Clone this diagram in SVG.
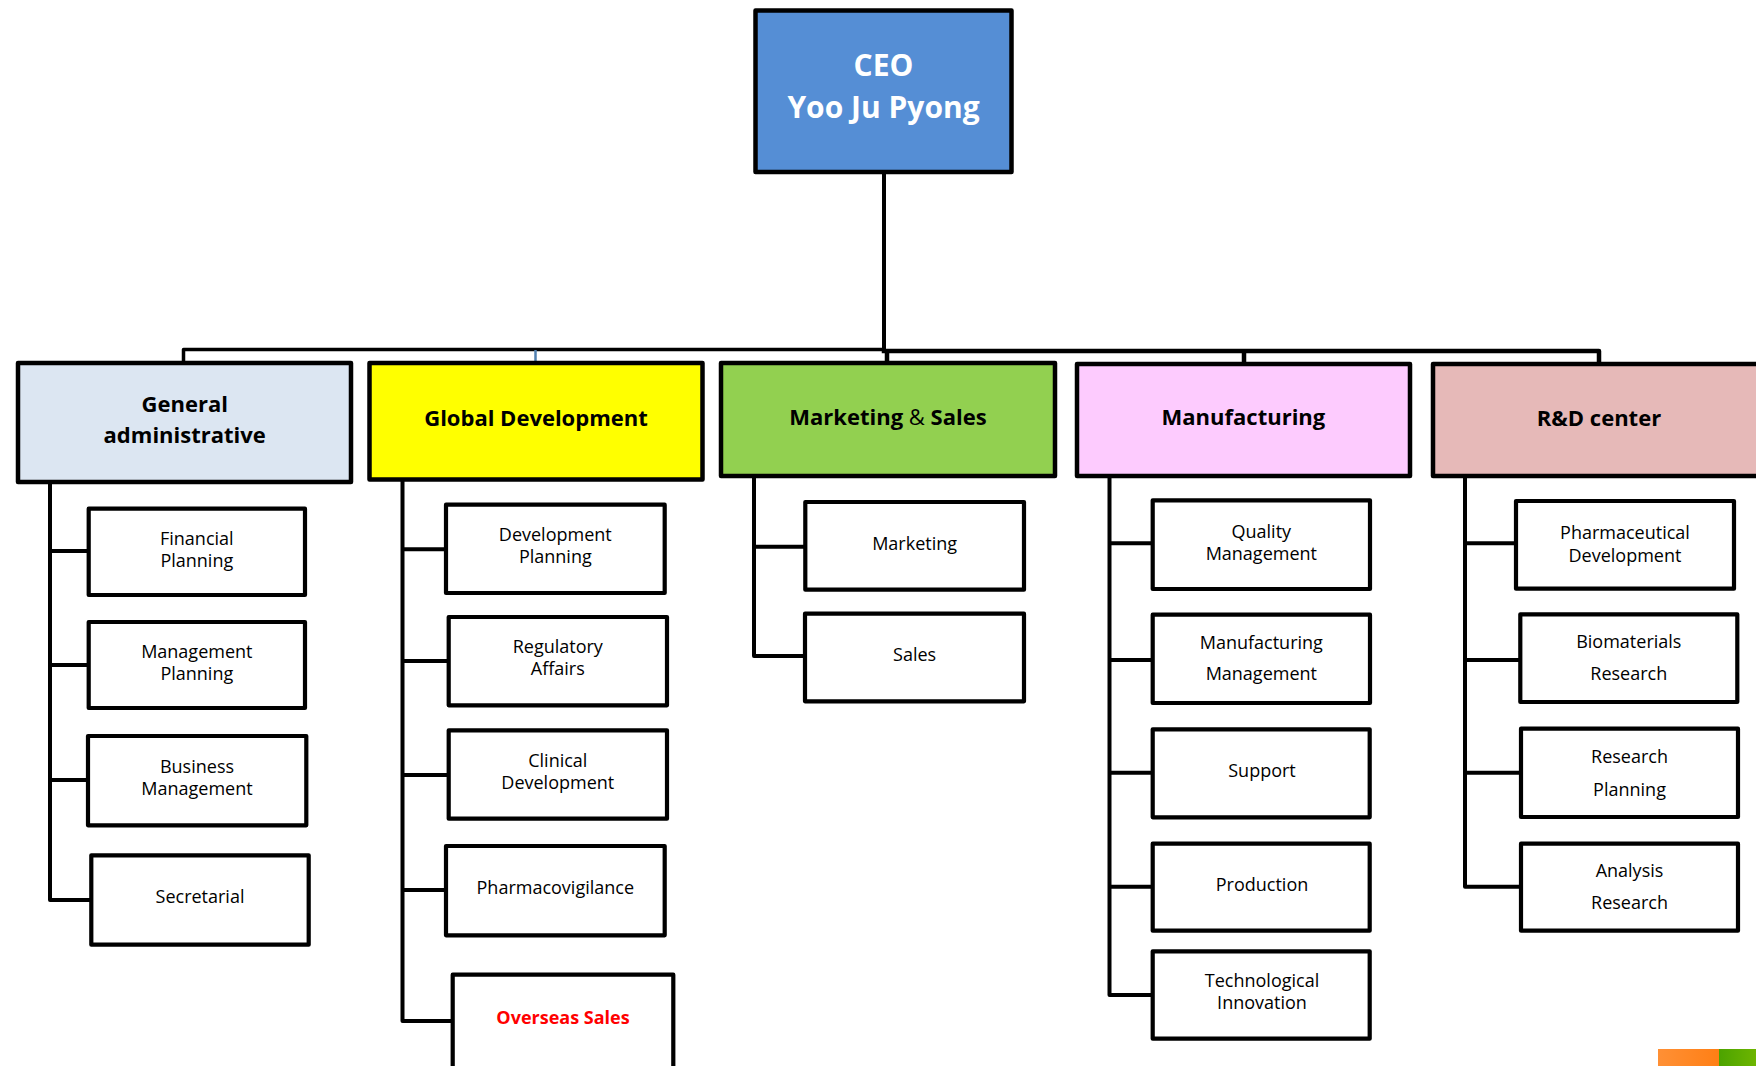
<svg xmlns="http://www.w3.org/2000/svg" width="1756" height="1066" viewBox="0 0 1756 1066">
<defs>
<style>
.box{fill:#fff;stroke:#000;stroke-width:4.2;stroke-linejoin:round}
.dept{stroke:#000;stroke-width:4.5;stroke-linejoin:round}
.ln{fill:none;stroke:#000;stroke-width:4;stroke-linejoin:round;stroke-linecap:square}
.t{font-family:"Open Sans","Liberation Sans",sans-serif;font-size:18px;fill:#000;text-anchor:middle}
.d{font-family:"Open Sans","Liberation Sans",sans-serif;font-size:22px;font-weight:bold;fill:#000;text-anchor:middle}
.ceo{font-family:"Open Sans","Liberation Sans",sans-serif;font-size:30px;font-weight:bold;fill:#fff;text-anchor:middle}
.red{fill:#ff0000;font-weight:bold}
</style>
<linearGradient id="og" x1="0" y1="0" x2="1" y2="0"><stop offset="0" stop-color="#ff9035"/><stop offset="1" stop-color="#ff7f15"/></linearGradient>
<linearGradient id="gg" x1="0" y1="0" x2="1" y2="0"><stop offset="0" stop-color="#4ca300"/><stop offset="1" stop-color="#6db500"/></linearGradient>
</defs>
<rect width="1756" height="1066" fill="#fff"/>

<g id="connectors">
<path class="ln" d="M884,174 V351"/>
<path class="ln" style="stroke-width:3.5" d="M183.5,362 V349.5 H884"/>
<path class="ln" style="stroke-width:4.5" d="M884,351 H1599 V363 M887,351 V363 M1244,351 V363"/>
<path d="M535.5,350 V362" stroke="#4f7fb0" stroke-width="2.5" fill="none"/>
<path class="ln" d="M50,484 V900 H89 M50,551 H88 M50,665 H88 M50,780 H88"/>
<path class="ln" d="M402.5,481 V1021 H452 M402.5,549.3 H445 M402.5,661 H448 M402.5,775 H448 M402.5,890 H445"/>
<path class="ln" d="M754,477 V656 H804 M754,546.7 H804"/>
<path class="ln" d="M1109.5,477 V995 H1152 M1109.5,543.3 H1152 M1109.5,660 H1152 M1109.5,772.7 H1152 M1109.5,886.7 H1152"/>
<path class="ln" d="M1465,477 V886.7 H1520 M1465,543.3 H1515 M1465,660 H1519 M1465,772.7 H1520"/>
</g>

<g id="ceo">
<rect x="755.5" y="10.5" width="256" height="161.5" fill="#558ed5" stroke="#000" stroke-width="4.5" stroke-linejoin="round"/>
<text class="ceo" x="883.5" y="76">CEO</text>
<text class="ceo" x="883.5" y="118">Yoo Ju Pyong</text>
</g>

<g id="general">
<rect class="dept" x="18" y="363" width="333" height="119" fill="#dce6f2"/>
<text class="d" x="184.7" y="412">General</text>
<text class="d" x="184.7" y="443">administrative</text>
</g>
<g id="global">
<rect class="dept" x="369.5" y="363" width="333" height="116.5" fill="#ffff00"/>
<text class="d" x="536" y="426">Global Development</text>
</g>
<g id="marketing">
<rect class="dept" x="721" y="363" width="334" height="113" fill="#92d050"/>
<text class="d" x="888" y="425">Marketing <tspan font-weight="normal">&amp;</tspan> Sales</text>
</g>
<g id="manufacturing">
<rect class="dept" x="1077" y="364" width="333" height="112" fill="#fdcbfe"/>
<text class="d" x="1243.4" y="425">Manufacturing</text>
</g>
<g id="rnd">
<rect class="dept" x="1433" y="364" width="340" height="112" fill="#e6b9b8"/>
<text class="d" x="1599" y="426">R&amp;D center</text>
</g>

<g id="financial-planning"><rect class="box" x="88.7" y="508.7" width="216.3" height="86.3"/><text class="t" x="196.8" y="545">Financial</text><text class="t" x="196.8" y="567">Planning</text></g>
<g id="management-planning"><rect class="box" x="88.7" y="622" width="216.3" height="86"/><text class="t" x="196.8" y="658">Management</text><text class="t" x="196.8" y="680">Planning</text></g>
<g id="business-management"><rect class="box" x="88" y="736" width="218.3" height="89.3"/><text class="t" x="197" y="772.7">Business</text><text class="t" x="197" y="795">Management</text></g>
<g id="secretarial"><rect class="box" x="91.3" y="855.3" width="217.4" height="89.4"/><text class="t" x="200" y="903.3">Secretarial</text></g>

<g id="development-planning"><rect class="box" x="446" y="504.7" width="218.7" height="88.3"/><text class="t" x="555.3" y="541">Development</text><text class="t" x="555.3" y="563.3">Planning</text></g>
<g id="regulatory-affairs"><rect class="box" x="448.7" y="617" width="218.3" height="88.3"/><text class="t" x="557.8" y="653">Regulatory</text><text class="t" x="557.8" y="675">Affairs</text></g>
<g id="clinical-development"><rect class="box" x="448.7" y="730.3" width="218.3" height="88.4"/><text class="t" x="557.8" y="767">Clinical</text><text class="t" x="557.8" y="789">Development</text></g>
<g id="pharmacovigilance"><rect class="box" x="446" y="846" width="218.7" height="89.3"/><text class="t" x="555.3" y="894">Pharmacovigilance</text></g>
<g id="overseas-sales"><rect class="box" x="452.7" y="974.7" width="220.6" height="110"/><text class="t red" x="563" y="1024">Overseas Sales</text></g>

<g id="marketing-sub"><rect class="box" x="805.3" y="502" width="218.7" height="87.7"/><text class="t" x="914.6" y="550">Marketing</text></g>
<g id="sales"><rect class="box" x="805" y="613.7" width="219" height="87.6"/><text class="t" x="914.6" y="660.7">Sales</text></g>

<g id="quality-management"><rect class="box" x="1152.7" y="500.3" width="217.3" height="88.7"/><text class="t" x="1261.3" y="538">Quality</text><text class="t" x="1261.3" y="560">Management</text></g>
<g id="manufacturing-management"><rect class="box" x="1152.7" y="614.7" width="217.3" height="88.3"/><text class="t" x="1261.3" y="649">Manufacturing</text><text class="t" x="1261.3" y="680">Management</text></g>
<g id="support"><rect class="box" x="1152.7" y="729.3" width="217" height="88"/><text class="t" x="1262" y="776.7">Support</text></g>
<g id="production"><rect class="box" x="1152.7" y="843.7" width="217" height="87"/><text class="t" x="1262" y="890.7">Production</text></g>
<g id="technological-innovation"><rect class="box" x="1152.7" y="951.3" width="217" height="87.4"/><text class="t" x="1262" y="986.7">Technological</text><text class="t" x="1262" y="1009">Innovation</text></g>

<g id="pharmaceutical-development"><rect class="box" x="1516" y="501" width="218" height="87.7"/><text class="t" x="1625" y="539.3">Pharmaceutical</text><text class="t" x="1625" y="562.3">Development</text></g>
<g id="biomaterials-research"><rect class="box" x="1520.3" y="614.3" width="217" height="87.7"/><text class="t" x="1628.8" y="647.7">Biomaterials</text><text class="t" x="1628.8" y="680">Research</text></g>
<g id="research-planning"><rect class="box" x="1521" y="728.7" width="217" height="88.3"/><text class="t" x="1629.5" y="762.7">Research</text><text class="t" x="1629.5" y="796">Planning</text></g>
<g id="analysis-research"><rect class="box" x="1521" y="843.7" width="217" height="87"/><text class="t" x="1629.5" y="876.7">Analysis</text><text class="t" x="1629.5" y="909.3">Research</text></g>

<rect x="1658" y="1049" width="61" height="17" fill="url(#og)"/>
<rect x="1719" y="1049" width="37" height="17" fill="url(#gg)"/>
</svg>
